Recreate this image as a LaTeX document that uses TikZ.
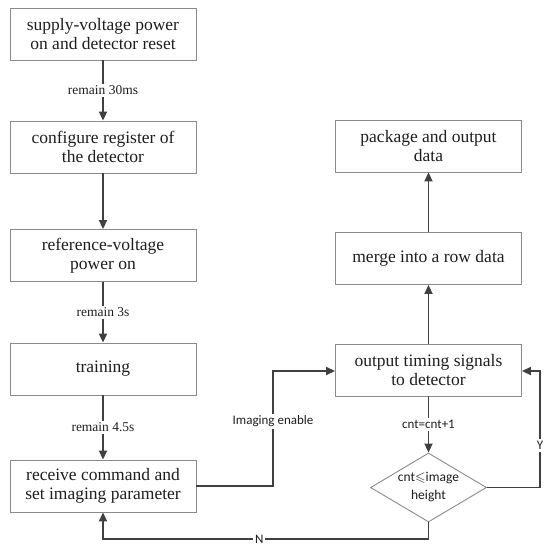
\documentclass[tikz,border=0pt]{standalone}
\usepackage{amssymb}
\usepackage{fontspec}
\setmainfont{Liberation Serif}
\newfontfamily\lblfont{Carlito}
\usetikzlibrary{shapes.geometric,arrows.meta}
\definecolor{boxline}{HTML}{8A8A8A}
\definecolor{conn}{HTML}{404040}
\definecolor{txt}{HTML}{1E1E1E}
\tikzset{
  procbox/.style={draw=boxline, line width=0.9pt, minimum width=186pt, minimum height=52pt,
    inner sep=0pt, align=center, text=txt, font=\fontsize{17.5}{19}\selectfont},
  decbox/.style={draw=boxline, line width=0.9pt, diamond, aspect=1.68, minimum width=116pt,
    minimum height=69pt, inner sep=0pt, align=center, text=txt, font=\lblfont\fontsize{13.5}{18}\selectfont},
  conline/.style={draw=conn, line width=1.9pt, -{Triangle[length=9pt,width=8pt]}},
  serlbl/.style={fill=white, inner sep=2pt, text=txt, font=\fontsize{13.5}{15}\selectfont},
  sanslbl/.style={fill=white, inner sep=2pt, text=txt, font=\lblfont\fontsize{13}{15}\selectfont},
}
\begin{document}
\begin{tikzpicture}[x=1pt,y=-1pt]
\useasboundingbox (0,0) rectangle (550,549);
\node[procbox] (b1) at (103,34) {supply-voltage power\\on and detector reset};
\node[procbox] (b2) at (103,147) {configure register of\\the detector};
\node[procbox] (b3) at (103,255.5) {reference-voltage\\power on};
\node[procbox] (b4) at (103,369) {training};
\node[procbox] (b5) at (103,486) {receive command and\\set imaging parameter};
\node[procbox] (r1) at (428.5,146) {package and output\\data};
\node[procbox] (r2) at (428.5,258.5) {merge into a row data};
\node[procbox] (r3) at (428.5,370) {output timing signals\\to detector};
\node[decbox] (d) at (428.5,487.5) {cnt$\leqslant$image\\height};
\coordinate (ie1) at (273,486);
\coordinate (ie2) at (273,371);
\coordinate (y1) at (540,487.5);
\coordinate (y2) at (540,371);
\coordinate (n1) at (428.5,539);
\coordinate (n2) at (103,539);

\draw[conline] (b1) -- node[serlbl] {remain 30ms} (b2);
\draw[conline] (b2) -- (b3);
\draw[conline] (b3) -- node[serlbl] {remain 3s} (b4);
\draw[conline] (b4) -- node[serlbl] {remain 4.5s} (b5);
\draw[conline] (b5.east |- ie1) -- (ie1) -- node[sanslbl, pos=0.56] {Imaging enable} (ie2) -- (r3.west |- ie2);
\draw[conline] (r3) -- (r2);
\draw[conline] (r2) -- (r1);
\draw[conline] (r3) -- node[sanslbl] {cnt=cnt+1} (d);
\draw[conline] (d.east) -- (y1) -- node[sanslbl, pos=0.36] {Y} (y2) -- (r3.east |- y2);
\draw[conline] (d.south) -- (n1) -- node[sanslbl, pos=0.52] {N} (n2) -- (b5.south);
\end{tikzpicture}
\end{document}
